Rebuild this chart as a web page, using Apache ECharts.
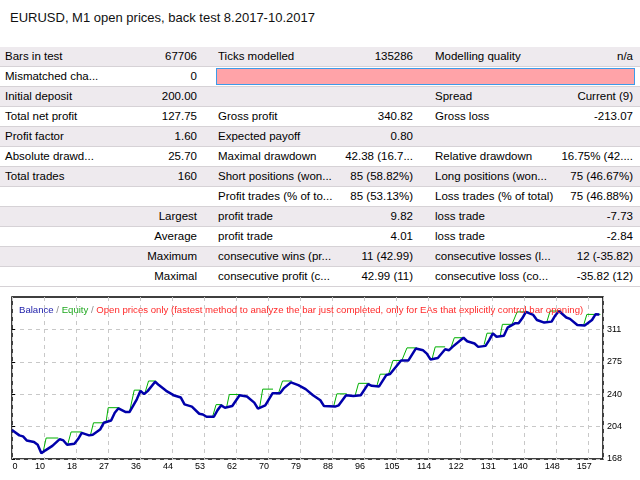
<!DOCTYPE html>
<html>
<head>
<meta charset="utf-8">
<title>EURUSD back test</title>
<script src="https://cdn.jsdelivr.net/npm/echarts@6/dist/echarts.min.js"></script>
<style>
    body { margin: 0; background: #fff; font-family: "Liberation Sans", Arial, sans-serif; }
    #page { position: relative; width: 640px; height: 480px; overflow: hidden; }
    #caption { position: absolute; left: 10px; top: 10px; font-size: 13px; color: #111; white-space: nowrap; }
    .row { position: absolute; left: 0; width: 640px; height: 19px; border-bottom: 1px solid #d6d2d6;
           font-size: 11.5px; line-height: 19px; color: #000; }
    .row.grey { background: #eeeaee; }
    .cell { position: absolute; top: 0; white-space: nowrap; }
    .l1 { left: 5px; }
    .v1 { right: 443px; text-align: right; }
    .l2 { left: 218px; }
    .v2 { right: 227px; text-align: right; }
    .l3 { left: 435px; }
    .v3 { right: 7px; text-align: right; }
    .bar { position: absolute; left: 216px; top: 1px; width: 417px; height: 15px;
           background: #ffa3a8; border: 1px solid #3d9be9; }
    #main { position: absolute; left: 0; top: 290px; width: 640px; height: 190px; }
</style>
</head>
<body>
<div id="page">
    <div id="caption"></div>
    <div id="table"></div>
    <div id="main"></div>
</div>
<script>
    var caption = 'EURUSD, M1 open prices, back test 8.2017-10.2017';

    // report rows: label, value, label, value, label, value ('bar' = mismatched charts box)
    var reportRows = [
        ['Bars in test', '67706', 'Ticks modelled', '135286', 'Modelling quality', 'n/a'],
        ['Mismatched cha...', '0', 'bar'],
        ['Initial deposit', '200.00', '', '', 'Spread', 'Current (9)'],
        ['Total net profit', '127.75', 'Gross profit', '340.82', 'Gross loss', '-213.07'],
        ['Profit factor', '1.60', 'Expected payoff', '0.80', '', ''],
        ['Absolute drawd...', '25.70', 'Maximal drawdown', '42.38 (16.7...', 'Relative drawdown', '16.75% (42....'],
        ['Total trades', '160', 'Short positions (won...', '85 (58.82%)', 'Long positions (won...', '75 (46.67%)'],
        ['', '', 'Profit trades (% of to...', '85 (53.13%)', 'Loss trades (% of total)', '75 (46.88%)'],
        ['', 'Largest', 'profit trade', '9.82', 'loss trade', '-7.73'],
        ['', 'Average', 'profit trade', '4.01', 'loss trade', '-2.84'],
        ['', 'Maximum', 'consecutive wins (pr...', '11 (42.99)', 'consecutive losses (l...', '12 (-35.82)'],
        ['', 'Maximal', 'consecutive profit (c...', '42.99 (11)', 'consecutive loss (co...', '-35.82 (12)']
    ];

    // chart data (trade number -> balance)
    var balanceTrade = [0, 2, 3, 4, 6, 7, 8, 9, 11, 13, 14, 15, 17, 18, 19, 21, 22, 24, 25, 27,
        28, 29, 31, 32, 34, 35, 36, 37, 39, 40, 42, 44, 46, 47, 49, 51, 52, 53, 55, 56,
        57, 58, 60, 62, 64, 66, 67, 69, 71, 73, 74, 76, 78, 80, 82, 84, 85, 88, 89, 91,
        93, 95, 97, 98, 100, 102, 103, 106, 108, 110, 112, 113, 114, 116, 118, 119, 120, 123, 124, 126,
        127, 129, 130, 131, 132, 134, 135, 137, 138, 139, 140, 142, 143, 145, 147, 148, 149, 151, 152, 154,
        156, 158, 159, 160];
    var balanceValue = [200.0, 194.1, 193.0, 188.5, 186.7, 183.7, 174.3, 177.3, 182.5, 190.0,
        188.5, 183.7, 184.8, 190.0, 196.8, 194.1, 194.9, 200.5, 208.0, 210.5,
        219.1, 224.0, 219.8, 219.8, 234.0, 243.3, 239.6, 243.3, 253.4, 249.7,
        243.3, 238.5, 235.9, 228.4, 225.9, 218.0, 217.2, 214.7, 214.7, 222.0,
        227.3, 224.7, 226.5, 238.5, 237.0, 230.3, 223.6, 227.3, 240.7, 240.7,
        246.0, 252.7, 249.7, 245.2, 238.5, 232.9, 226.5, 225.9, 227.3, 238.5,
        237.7, 238.5, 250.8, 248.9, 248.2, 260.9, 262.0, 276.9, 276.9, 290.0,
        288.1, 284.4, 278.0, 279.6, 289.2, 288.1, 291.9, 302.0, 298.1, 295.6,
        291.9, 293.0, 299.3, 306.8, 303.1, 304.2, 313.1, 317.9, 317.9, 323.5,
        330.5, 327.2, 321.6, 318.7, 319.8, 326.6, 331.5, 324.3, 322.8, 316.0,
        315.4, 321.6, 328.0, 327.75];

    // equity excursions above balance, null = gap
    var equityTrade = [8.5, 9.3, 12.6, null, 15.2, 16.1, 19.0, null,
        21.4, 22.2, 25.6, 26.2, 29.2, null, 32.0, 33.3, 35.1, null, 36.2, 37.2, 39.2, null,
        54.6, 55.6, 57.2, null, 58.5, 59.2, 62.1, null, 67.4, 68.3, 71.1, null, 72.6, 73.7, 76.2, null,
        87.6, 88.5, 91.2, null, 93.5, 94.4, 97.4, null, 99.4, 100.3, 102.1, null,
        102.6, 103.8, 106.2, 106.6, 107.6, 110.3, null, 114.4, 115.3, 118.0, null,
        119.4, 120.5, 123.0, null, 128.6, 129.4, 131.0, null,
        133.0, 133.6, 136.2, 136.6, 137.6, 140.7, null, 145.7, 146.6, 149.6, null,
        155.7, 156.6, 160.3];
    var equityValue = [176.0, 191.2, 191.2, null, 184.4, 197.9, 197.9, null,
        194.9, 208.0, 208.0, 224.7, 224.7, null, 219.8, 244.1, 244.1, null, 240.7, 254.2, 254.2, null,
        214.2, 228.1, 228.1, null, 225.9, 239.3, 239.3, null, 223.6, 245.2, 245.2, null, 240.7, 254.2, 254.2, null,
        225.9, 240.0, 240.0, null, 238.5, 251.6, 251.6, null, 248.9, 261.7, 261.7, null,
        262.0, 276.9, 276.9, 276.9, 290.8, 290.8, null, 278.0, 291.9, 291.9, null,
        288.9, 302.0, 302.0, null, 294.4, 307.0, 307.0, null,
        304.2, 316.8, 316.8, 317.9, 330.5, 330.5, null, 319.5, 331.5, 331.5, null,
        315.6, 327.75, 327.75];

    var xLabels = [0, 10, 18, 27, 36, 44, 53, 62, 70, 79, 88, 96, 105, 114, 122, 131, 140, 148, 157];
    var yLabels = [168, 204, 240, 275, 311];

    var xStep = 8.72, xMax = 161;
    var yMin = 168, yMax = 347, yStep = 35.8;

    // ---- report table ----
    document.getElementById('caption').textContent = caption;
    var html = '';
    var cls = ['l1', 'v1', 'l2', 'v2', 'l3', 'v3'];
    for (var r = 0; r < reportRows.length; r++) {
        var rowTop = 47 + r * 20;
        html += '<div class="row' + (r % 2 == 0 ? ' grey' : '') + '" style="top:' + rowTop + 'px">';
        var row = reportRows[r];
        for (var c = 0; c < row.length; c++) {
            if (row[c] == 'bar') {
                html += '<div class="bar"></div>';
            } else if (row[c] !== '') {
                html += '<div class="cell ' + cls[c] + '">' + row[c] + '</div>';
            }
        }
        html += '</div>';
    }
    document.getElementById('table').innerHTML = html;

    // ---- balance / equity chart ----
    var balanceData = balanceTrade.map(function (t, i) { return [t, balanceValue[i]]; });
    var equityData = equityTrade.map(function (t, i) {
        return t === null ? [equityTrade[i - 1], '-'] : [t, equityValue[i]];
    });
    var yTicks = yLabels.map(function (l, k) { return yMin + k * yStep; });

    var chart = echarts.init(document.getElementById('main'));
    var font = '"Liberation Sans", Arial, sans-serif';
    var fs = 9.6;
    chart.setOption({
        animation: false,
        title: {
            left: 14,
            top: 10,
            text: '{b|Balance}{s| / }{e|Equity}{s| / }{r|Open prices only (fastest method to analyze the bar just completed, only for EAs that explicitly control bar opening)}',
            textStyle: {
                fontSize: fs,
                fontWeight: 'normal',
                fontFamily: font,
                rich: {
                    b: { color: '#1a1aa8', fontSize: fs, fontFamily: font },
                    s: { color: '#8a8a8a', fontSize: fs, fontFamily: font },
                    e: { color: '#20a820', fontSize: fs, fontFamily: font },
                    r: { color: '#ff2a2a', fontSize: fs, fontFamily: font }
                }
            }
        },
        grid: {
            left: 12,
            right: 37,
            top: 7,
            bottom: 21,
            show: true,
            borderColor: '#000',
            borderWidth: 1.5,
            backgroundColor: 'transparent'
        },
        xAxis: {
            type: 'value',
            min: 0,
            max: xMax,
            interval: xStep,
            axisLine: { show: false },
            axisTick: { show: false },
            splitLine: { lineStyle: { color: '#c8c8c8', type: [4, 4], width: 1 } },
            axisLabel: {
                margin: 3,
                color: '#000',
                fontSize: 9,
                fontFamily: font,
                formatter: function (v) {
                    var k = Math.round(v / xStep);
                    if (Math.abs(v - k * xStep) > 0.01 || k >= xLabels.length) return '';
                    return k == 0 ? '{z|0}' : '{n|' + xLabels[k] + '}';
                },
                rich: {
                    z: { fontSize: 9, fontFamily: font, color: '#000', padding: [0, 0, 0, 6] },
                    n: { fontSize: 9, fontFamily: font, color: '#000', padding: [0, 8, 0, 0] }
                }
            }
        },
        yAxis: {
            type: 'value',
            position: 'right',
            min: yMin,
            max: yMax,
            axisLine: { show: false },
            axisTick: { show: true, length: 3, customValues: yTicks, lineStyle: { color: '#000' } },
            splitLine: { lineStyle: { color: '#c8c8c8', type: [4, 4], width: 1 } },
            axisLabel: {
                customValues: yTicks,
                margin: 4,
                color: '#000',
                fontSize: 9,
                fontFamily: font,
                formatter: function (v) {
                    return yLabels[Math.round((v - yMin) / yStep)];
                }
            }
        },
        series: [{
            name: 'Equity',
            type: 'line',
            data: equityData,
            showSymbol: false,
            connectNulls: false,
            z: 2,
            lineStyle: { color: '#00b000', width: 1 }
        }, {
            name: 'Balance',
            type: 'line',
            data: balanceData,
            showSymbol: false,
            z: 3,
            lineStyle: { color: '#0000aa', width: 2.5 }
        }]
    });
</script>
</body>
</html>
